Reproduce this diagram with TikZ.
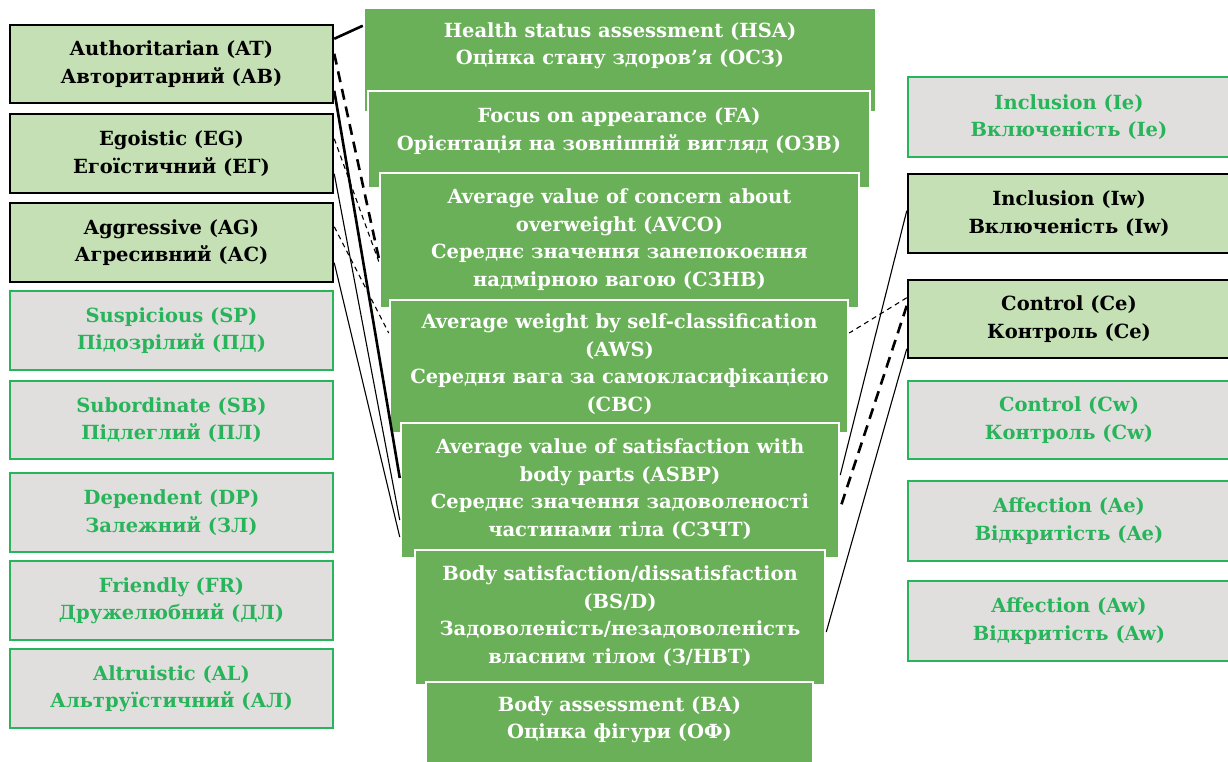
\documentclass[tikz,border=0pt]{standalone}
\usepackage{fontspec}
\setmainfont{DejaVu Serif}
\usetikzlibrary{calc}
\definecolor{cgreen}{RGB}{106,176,88}
\definecolor{lgreen}{RGB}{197,224,180}
\definecolor{lgray}{RGB}{225,223,221}
\definecolor{tgreen}{RGB}{40,180,90}
\begin{document}
\begin{tikzpicture}[x=1pt,y=-1pt,
  font=\bfseries\fontsize{19.5}{27.5}\selectfont,
  sigbox/.style={draw=black, line width=2.5pt, fill=lgreen, align=center, inner sep=0pt},
  nsbox/.style={draw=tgreen, line width=2.5pt, fill=lgray, text=tgreen, align=center, inner sep=0pt},
  lbox/.style={minimum width=323pt, minimum height=79pt},
  rbox/.style={minimum width=322pt, minimum height=79pt},
  cbox/.style={draw=white, line width=2.5pt, fill=cgreen, inner sep=0pt},
  ctext/.style={text=white, align=center, inner sep=0pt},
  solidthick/.style={line width=2.6pt},
  solidthin/.style={line width=1.1pt},
  dashthick/.style={line width=2.6pt, dash pattern=on 11pt off 7pt},
  dashthin/.style={line width=1.1pt, dash pattern=on 5pt off 4pt}]
\useasboundingbox (0,0) rectangle (1228,761);
\clip (0,0) rectangle (1228,761);
% left column
\node[sigbox, lbox, minimum height=78pt] (AT) at (171.5,64) {Authoritarian (AT)\\Авторитарний (АВ)};
\node[sigbox, lbox] (EG) at (171.5,153.5) {Egoistic (EG)\\Егоїстичний (ЕГ)};
\node[sigbox, lbox] (AG) at (171.5,242.5) {Aggressive (AG)\\Агресивний (АС)};
\node[nsbox, lbox] (SP) at (171.5,330.5) {Suspicious (SP)\\Підозрілий (ПД)};
\node[nsbox, lbox, minimum height=78pt] (SB) at (171.5,420) {Subordinate (SB)\\Підлеглий (ПЛ)};
\node[nsbox, lbox] (DP) at (171.5,512.5) {Dependent (DP)\\Залежний (ЗЛ)};
\node[nsbox, lbox] (FR) at (171.5,600.5) {Friendly (FR)\\Дружелюбний (ДЛ)};
\node[nsbox, lbox] (AL) at (171.5,688.5) {Altruistic (AL)\\Альтруїстичний (АЛ)};
% right column
\node[nsbox, rbox, minimum height=80pt] (Ie) at (1069,117) {Inclusion (Ie)\\Включеність (Ie)};
\node[sigbox, rbox] (Iw) at (1069,213.5) {Inclusion (Iw)\\Включеність (Iw)};
\node[sigbox, rbox, minimum height=78pt] (Ce) at (1069,319) {Control (Ce)\\Контроль (Ce)};
\node[nsbox, rbox, minimum height=78pt] (Cw) at (1069,420) {Control (Cw)\\Контроль (Cw)};
\node[nsbox, rbox, minimum height=80pt] (Ae) at (1069,521) {Affection (Ae)\\Відкритість (Ae)};
\node[nsbox, rbox, minimum height=80pt] (Aw) at (1069,621) {Affection (Aw)\\Відкритість (Aw)};
% centre stack
\node[cbox, minimum width=512pt, minimum height=104pt] (HSA) at (620,60) {};
\node[ctext] at (620,46) {Health status assessment (HSA)\\Оцінка стану здоров’я (ОСЗ)};
\node[cbox, minimum width=502pt, minimum height=97pt] (FA) at (619,139.5) {};
\node[ctext] at (619,131) {Focus on appearance (FA)\\Орієнтація на зовнішній вигляд (ОЗВ)};
\node[cbox, minimum width=479pt, minimum height=135pt] (AVCO) at (619.5,240.5) {};
\node[ctext] at (619.5,239.5) {Average value of concern about\\overweight (AVCO)\\Середнє значення занепокоєння\\надмірною вагою (СЗНВ)};
\node[cbox, minimum width=458pt, minimum height=133pt] (AWS) at (619,366.5) {};
\node[ctext] at (619.5,364) {Average weight by self-classification\\(AWS)\\Середня вага за самокласифікацією\\(СВС)};
\node[cbox, minimum width=438pt, minimum height=135pt] (ASBP) at (620,490.5) {};
\node[ctext] at (620,489) {Average value of satisfaction with\\body parts (ASBP)\\Середнє значення задоволеності\\частинами тіла (СЗЧТ)};
\node[cbox, minimum width=410pt, minimum height=135pt] (BSD) at (620,617.5) {};
\node[ctext] at (620,616) {Body satisfaction/dissatisfaction\\(BS/D)\\Задоволеність/незадоволеність\\власним тілом (З/НВТ)};
\node[cbox, minimum width=387pt, minimum height=93pt] (BA) at (619.5,728.5) {};
\node[ctext] at (619.5,719.5) {Body assessment (BA)\\Оцінка фігури (ОФ)};
% connectors, left
\draw[solidthick] ([yshift=-15pt]AT.north east) -- ([yshift=-19pt]HSA.north west);
\draw[dashthick] ([yshift=-30pt]AT.north east) -- ([yshift=-17.5pt]AVCO.west);
\draw[solidthick] ([yshift=-67pt]AT.north east) -- ([yshift=12.5pt]ASBP.west);
\draw[dashthin] ([yshift=-26pt]EG.north east) -- ([yshift=-21pt]AVCO.west);
\draw[solidthin] ([yshift=-61pt]EG.north east) -- ([yshift=-29.5pt]ASBP.west);
\draw[dashthin] ([yshift=-25pt]AG.north east) -- ([yshift=33.5pt]AWS.west);
\draw[solidthin] ([yshift=-61pt]AG.north east) -- ([yshift=-46.5pt]ASBP.west);
% connectors, right
\draw[solidthin] ([yshift=-38pt]Iw.north west) -- ([yshift=15.5pt]ASBP.east);
\draw[dashthin] ([yshift=-19pt]Ce.north west) -- ([yshift=33.5pt]AWS.east);
\draw[dashthick] ([yshift=-27pt]Ce.north west) -- ([yshift=-17.5pt]ASBP.east);
\draw[solidthin] ([yshift=-70pt]Ce.north west) -- ([yshift=-14.5pt]BSD.east);
\end{tikzpicture}
\end{document}
